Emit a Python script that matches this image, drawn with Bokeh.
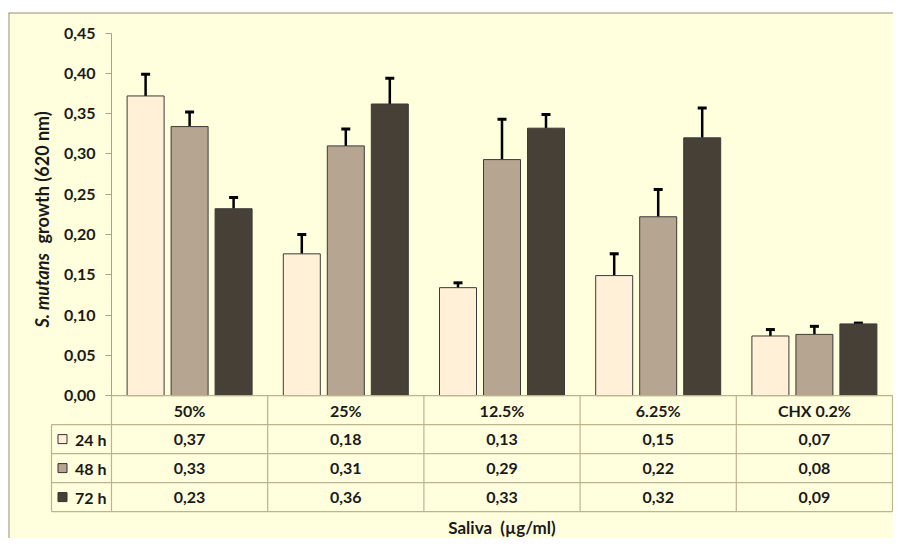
import math
from bokeh.plotting import figure
from bokeh.models import (LinearAxis, FixedTicker, CustomJSTickFormatter, Range1d,
                          ColumnDataSource, Whisker, TeeHead, Span)
from bokeh.core.properties import value
from bokeh.embed import file_html
from bokeh.resources import INLINE

# ---------------- data ----------------
categories = ["50%", "25%", "12.5%", "6.25%", "CHX 0.2%"]
series = ["24 h", "48 h", "72 h"]
growth_24h = [0.372, 0.176, 0.134, 0.149, 0.074]
growth_48h = [0.334, 0.310, 0.293, 0.222, 0.076]
growth_72h = [0.232, 0.362, 0.332, 0.320, 0.089]
err_24h = [0.027, 0.024, 0.006, 0.027, 0.008]
err_48h = [0.018, 0.021, 0.050, 0.034, 0.010]
err_72h = [0.014, 0.032, 0.017, 0.037, 0.001]
y_ticks = [0.00, 0.05, 0.10, 0.15, 0.20, 0.25, 0.30, 0.35, 0.40, 0.45]
y_title_italic = "S. mutans"
y_title_rest = "growth (620 nm)"
x_title = "Saliva\u00a0 (µg/ml)"

# ---------------- style ----------------
colors = ["#FFF0D7", "#B6A691", "#474036"]
bg = "#FFFFDD"
table_line = "#BDB38F"
axis_line = "#A9A28C"
frame_line = "#9C8E7C"
txt = "#1a1a1a"
FONT = value("Lato")

W, H = 893, 538
LEFT, TOP = 8, 12
axis_px = 111            # canvas x of the value axis
zero_px = 395.1          # canvas y of value 0
cat_px = 156.2           # pixel width of one category
px_per_unit = 805.5      # pixels per y unit
x_start = -(axis_px - LEFT) / cat_px
x_end = x_start + (W - LEFT) / cat_px
y_end = (zero_px - TOP) / px_per_unit
y_start = y_end - (H - TOP) / px_per_unit

row_h = 29 / px_per_unit
label_left = -60 / cat_px
n_cat = len(categories)

p = figure(width=W, height=H, output_backend="svg", toolbar_location=None,
           x_axis_location=None, y_axis_location=None,
           x_range=Range1d(x_start, x_end), y_range=Range1d(y_start, y_end),
           min_border_top=TOP, min_border_left=LEFT, min_border_right=0, min_border_bottom=0,
           background_fill_color=bg, border_fill_color="white", outline_line_color=None)
p.grid.visible = False

# y axis placed at x=0 inside the frame
yaxis = LinearAxis(fixed_location=0, bounds=(0, 0.45),
                   ticker=FixedTicker(ticks=y_ticks),
                   formatter=CustomJSTickFormatter(code="return tick.toFixed(2).replace('.', ',');"))
yaxis.axis_line_color = axis_line
yaxis.major_tick_line_color = axis_line
yaxis.major_tick_out = 6
yaxis.major_tick_in = 0
yaxis.minor_tick_line_color = None
yaxis.major_label_standoff = 10
yaxis.major_label_text_font = "Lato"
yaxis.major_label_text_font_style = "bold"
yaxis.major_label_text_font_size = "16px"
yaxis.major_label_text_color = txt
p.add_layout(yaxis, "left")

# bars
values = [growth_24h, growth_48h, growth_72h]
errs = [err_24h, err_48h, err_72h]
step = 44 / cat_px
bar_w = 37 / cat_px
for s, (vals, er, col) in enumerate(zip(values, errs, colors)):
    xs = [i + 0.5 + (s - 1) * step for i in range(n_cat)]
    src = ColumnDataSource(dict(x=xs, top=vals, lower=vals,
                                upper=[v + e for v, e in zip(vals, er)]))
    p.vbar(x="x", top="top", bottom=0, width=bar_w, source=src,
           fill_color=col, line_color="#3a3a3a", line_width=1)
    p.add_layout(Whisker(source=src, base="x", lower="lower", upper="upper",
                         dimension="height", line_color="black", line_width=2.5,
                         upper_head=TeeHead(size=9, line_width=3, line_color="black"),
                         lower_head=None))

# data table lines
n_rows = len(series) + 1
hx0, hx1, hy = [0], [n_cat], [0]
for k in range(1, n_rows + 1):
    hx0.append(label_left); hx1.append(n_cat); hy.append(-k * row_h)
p.segment(x0=hx0, x1=hx1, y0=hy, y1=hy, line_color=table_line, line_width=1.2)
vx = [label_left] + list(range(n_cat + 1))
vy0 = [-row_h] + [0] * (n_cat + 1)
vy1 = [-n_rows * row_h] * (n_cat + 2)
p.segment(x0=vx, x1=vx, y0=vy0, y1=vy1, line_color=table_line, line_width=1.2)

# header row
p.text(x=[i + 0.5 for i in range(n_cat)], y=[-0.5 * row_h] * n_cat, text=categories,
       text_align="center", text_baseline="middle", text_font=FONT,
       text_font_style="bold", text_font_size="16px", text_color=txt)

# series rows
for s, (vals, col) in enumerate(zip(values, colors)):
    yc = -(s + 1.5) * row_h
    p.text(x=[i + 0.5 for i in range(n_cat)], y=[yc] * n_cat,
           text=[f"{v:.2f}".replace(".", ",") for v in vals],
           text_align="center", text_baseline="middle", text_font=FONT,
           text_font_style="bold", text_font_size="16px", text_color=txt)
    p.rect(x=[-49 / cat_px], y=[yc], width=9, height=9, width_units="screen",
           height_units="screen", fill_color=col, line_color="#333333", line_width=1)
    p.text(x=[-5 / cat_px], y=[yc], text=[series[s]], text_align="right",
           text_baseline="middle", text_font=FONT, text_font_style="bold",
           text_font_size="16px", text_color=txt)

# axis titles
title_x = -(axis_px - 41) / cat_px
p.text(x=[title_x], y=[(zero_px - 327) / px_per_unit], text=[y_title_italic],
       angle=math.pi / 2, text_align="left", text_baseline="middle", text_font=FONT,
       text_font_style="bold italic", text_font_size="18px", text_color=txt)
p.text(x=[title_x], y=[(zero_px - 243) / px_per_unit], text=[y_title_rest],
       angle=math.pi / 2, text_align="left", text_baseline="middle", text_font=FONT,
       text_font_style="bold", text_font_size="18px", text_color=txt)
p.text(x=[n_cat / 2], y=[-(527 - zero_px) / px_per_unit], text=[x_title],
       text_align="center", text_baseline="middle", text_font=FONT,
       text_font_style="bold", text_font_size="17px", text_color=txt)

# chart-area border (top and left visible in the crop)
p.add_layout(Span(location=y_end, dimension="width", line_color=frame_line, line_width=2))
p.add_layout(Span(location=x_start, dimension="height", line_color=frame_line, line_width=2))

open("out.html", "w").write(file_html(p, INLINE))
